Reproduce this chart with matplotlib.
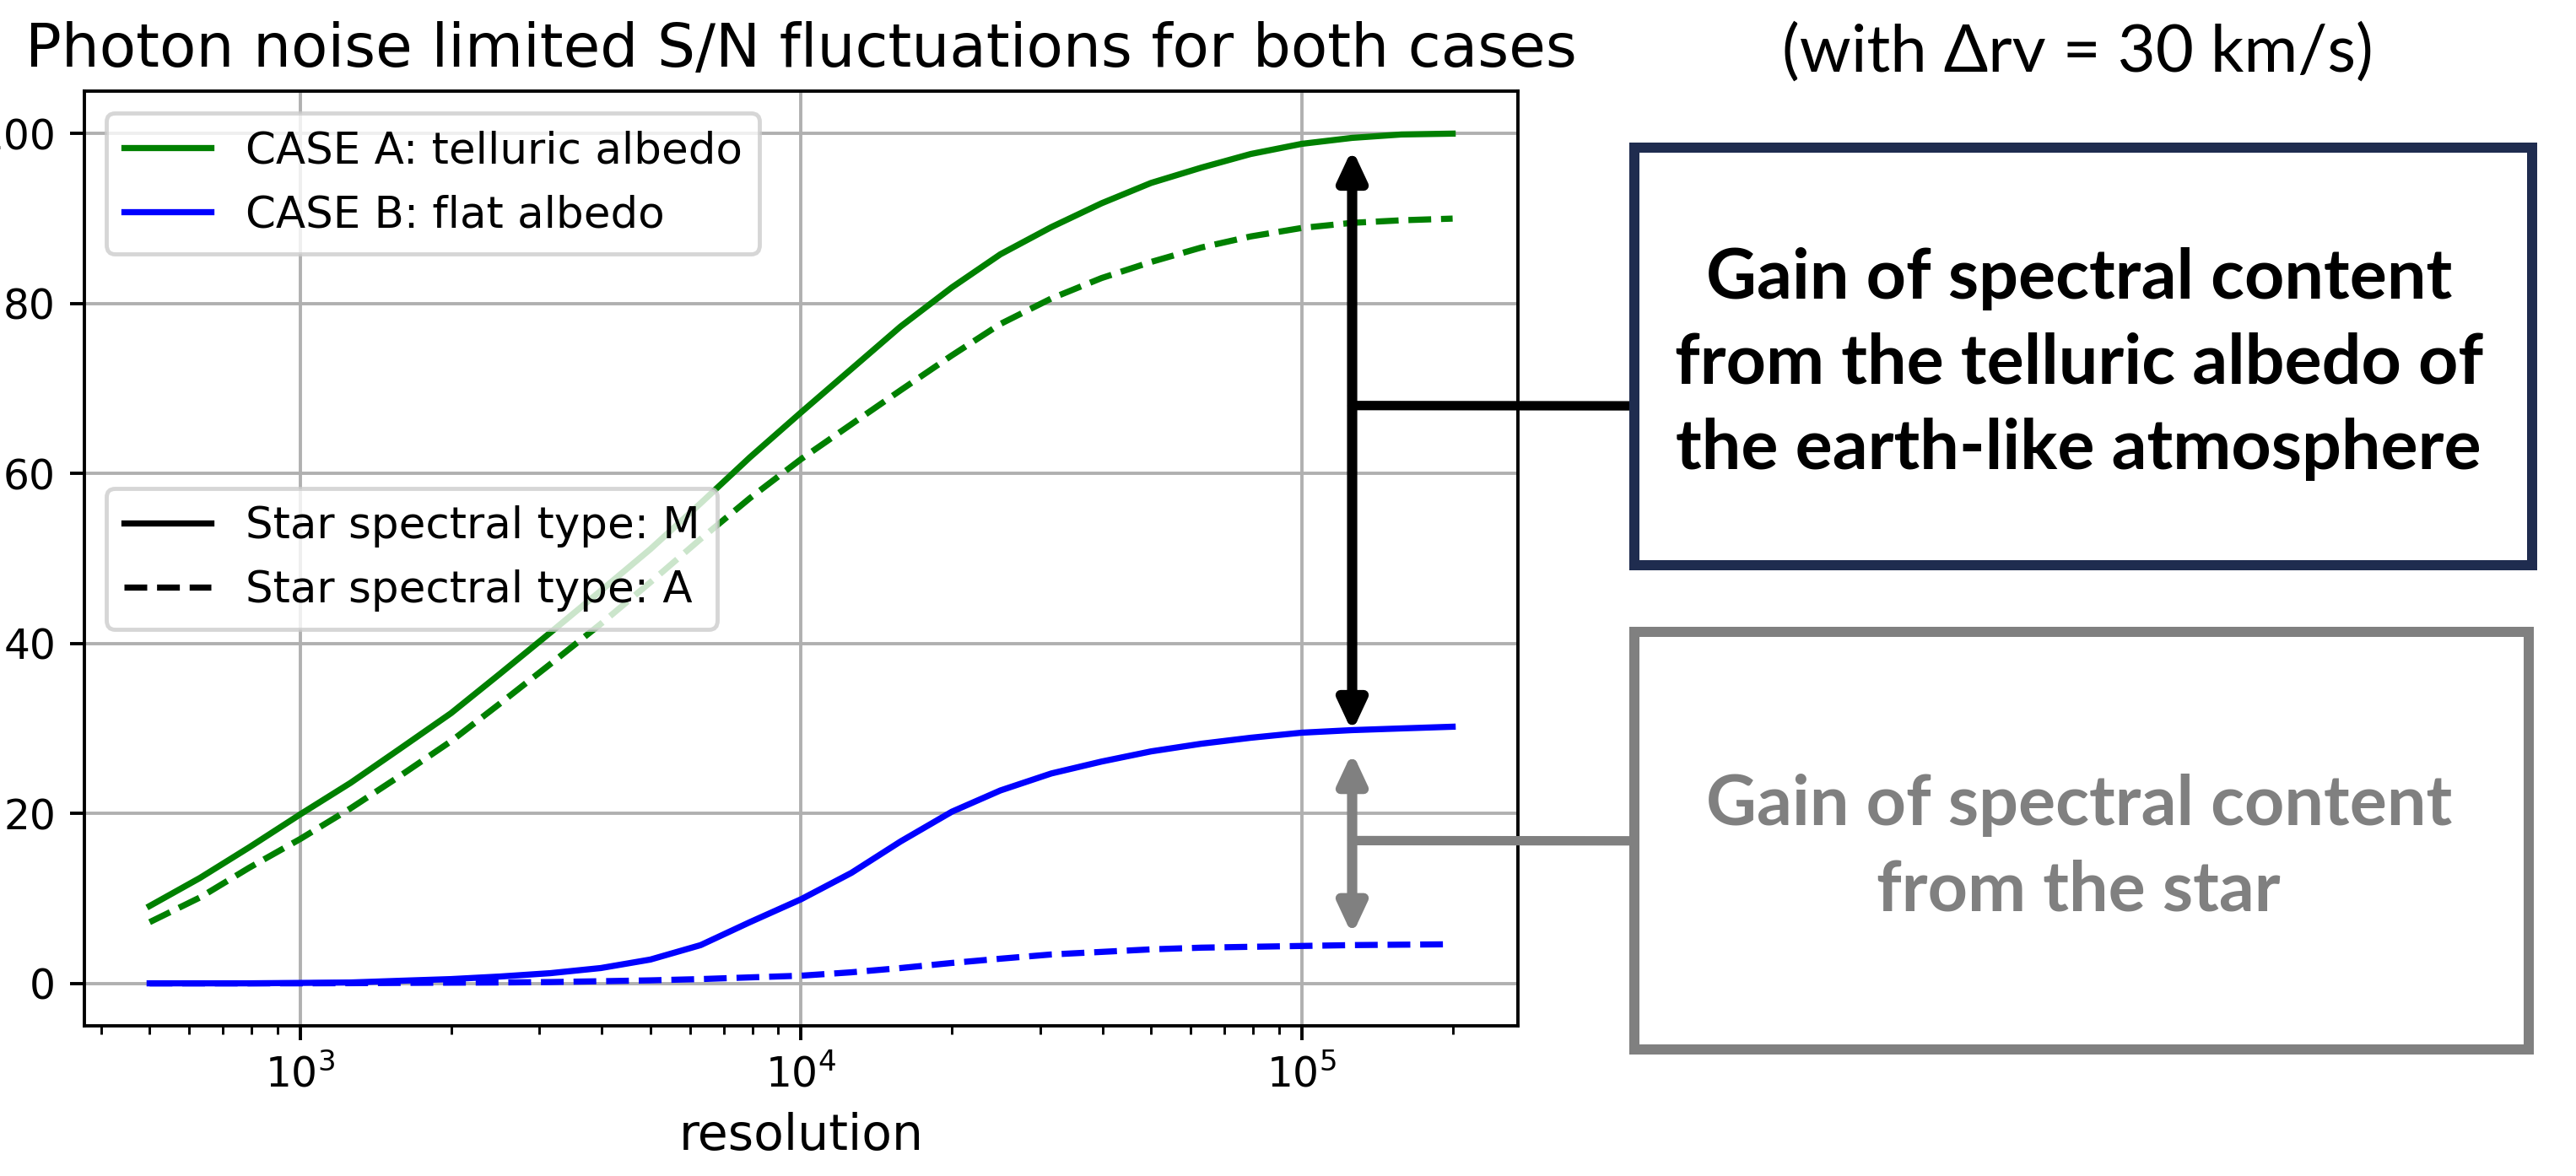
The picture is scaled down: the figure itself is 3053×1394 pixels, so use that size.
import numpy as np
import matplotlib
matplotlib.use('Agg')
import matplotlib.pyplot as plt
from matplotlib.lines import Line2D
from matplotlib.patches import Rectangle, ConnectionPatch

# data
resolution = [500, 630, 790, 1000, 1260, 1580, 2000, 2500, 3160, 3980,
              5000, 6300, 7900, 10000, 12600, 15800, 20000, 25000, 31600, 39800,
              50000, 63000, 79000, 100000, 126000, 158000, 200000]
case_a_star_m = [9.1, 12.4, 16.0, 19.9, 23.6, 27.6, 31.8, 36.4, 41.3, 46.2,
                 51.1, 56.5, 61.9, 67.2, 72.3, 77.3, 81.9, 85.8, 89.0, 91.8,
                 94.2, 96.0, 97.6, 98.8, 99.5, 99.9, 100.0]
case_a_star_a = [7.2, 10.1, 13.6, 17.0, 20.6, 24.4, 28.5, 32.9, 37.6, 42.3,
                 47.2, 52.3, 57.1, 61.7, 65.8, 69.8, 73.9, 77.6, 80.6, 83.0,
                 84.9, 86.6, 87.9, 88.9, 89.5, 89.8, 90.0]
case_b_star_m = [0.0, 0.0, 0.0, 0.05, 0.1, 0.3, 0.5, 0.8, 1.2, 1.8,
                 2.8, 4.5, 7.2, 9.9, 13.0, 16.7, 20.2, 22.7, 24.7, 26.1,
                 27.3, 28.2, 28.9, 29.5, 29.8, 30.0, 30.2]
case_b_star_a = [0.0, 0.0, 0.0, 0.0, 0.02, 0.05, 0.08, 0.1, 0.15, 0.25,
                 0.35, 0.5, 0.7, 0.9, 1.3, 1.8, 2.4, 2.9, 3.4, 3.7,
                 4.0, 4.2, 4.3, 4.4, 4.5, 4.55, 4.6]

case_labels = ['CASE A: telluric albedo', 'CASE B: flat albedo']
star_labels = ['Star spectral type: M', 'Star spectral type: A']

title = 'Photon noise limited S/N fluctuations for both cases'
subtitle = '(with \u0394rv = 30 km/s)'
box1_lines = ['Gain of spectral content', 'from the telluric albedo of',
              'the earth-like atmosphere']
box2_lines = ['Gain of spectral content', 'from the star']

# arrows: x position, (top, bottom) values, connector height
arrow_x = 1.26e5
telluric_span = (98.2, 29.6)
telluric_link = 68.0
star_span = (27.2, 5.7)
star_link = 16.8

DPI = 350
fig = plt.figure(figsize=(3053 / DPI, 1394 / DPI), dpi=DPI)
ax = fig.add_axes([0.0328, 0.1277, 0.5564, 0.7948])

ax.plot(resolution, case_a_star_m, color='green', ls='-')
ax.plot(resolution, case_a_star_a, color='green', ls='--')
ax.plot(resolution, case_b_star_m, color='blue', ls='-')
ax.plot(resolution, case_b_star_a, color='blue', ls='--')
ax.set_xscale('log')
ax.grid(True)
ax.set_xlabel('resolution', fontsize=12)
ax.set_title(title, fontsize=14.6)

leg1 = ax.legend([Line2D([], [], color='green'), Line2D([], [], color='blue')],
                 case_labels, loc='upper left', fontsize=10.6)
ax.add_artist(leg1)
ax.legend([Line2D([], [], color='k'), Line2D([], [], color='k', ls='--')],
          star_labels, loc='center left', fontsize=10.6)

astyle = '<|-|>,head_length=0.3,head_width=0.14'
ax.annotate('', xy=(arrow_x, telluric_span[0]), xytext=(arrow_x, telluric_span[1]),
            arrowprops=dict(arrowstyle=astyle, color='black', lw=2.5,
                            shrinkA=0, shrinkB=0, mutation_scale=20))
ax.annotate('', xy=(arrow_x, star_span[0]), xytext=(arrow_x, star_span[1]),
            arrowprops=dict(arrowstyle=astyle, color='gray', lw=2.5,
                            shrinkA=0, shrinkB=0, mutation_scale=20))

# boxes on the right
navy = '#1f2c4f'
box_lw = 12 * 72 / DPI
boxes = [
    ([0.6345, 0.5194], 0.3485, 0.3551, navy, box1_lines, 'black', 0.6908, telluric_link, 0.6549),
    ([0.6345, 0.1076], 0.3472, 0.3551, 'gray', box2_lines, 'gray', 0.2787, star_link, 0.2850),
]
for xy, w, h, ec, lines, tc, yc, link, ly in boxes:
    con = ConnectionPatch(xyA=(arrow_x, link), coordsA=ax.transData,
                          xyB=(xy[0], ly), coordsB=fig.transFigure,
                          color=tc, lw=2.3)
    fig.add_artist(con)
    fig.add_artist(Rectangle(xy, w, h, transform=fig.transFigure, facecolor='white',
                             edgecolor=ec, lw=box_lw, zorder=3))
    step = 101 / 1394
    n = len(lines)
    for i, line in enumerate(lines):
        fig.text(0.807, yc + ((n - 1) / 2 - i) * step, line, ha='center', va='center',
                 fontsize=17, fontweight='bold', family=['Lato', 'DejaVu Sans'],
                 color=tc, zorder=4)

fig.text(0.8067, 0.939, subtitle, ha='center', va='baseline', fontsize=16,
         family=['Lato', 'Open Sans', 'DejaVu Sans'])

fig.savefig('out.png', dpi=DPI)
